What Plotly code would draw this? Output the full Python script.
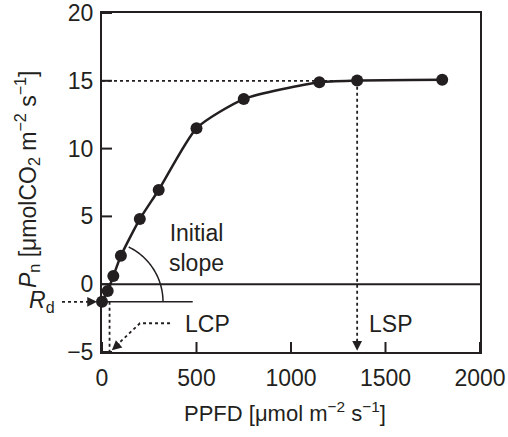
import numpy as np
import plotly.graph_objects as go

# Data
ppfd = [0, 30, 60, 100, 200, 300, 500, 750, 1150, 1350, 1800]
pn = [-1.3, -0.5, 0.6, 2.1, 4.8, 6.95, 11.5, 13.65, 14.9, 15.02, 15.08]
rd = -1.3
lcp = 40
lsp = 1350
pmax = 15
x_ticks = [0, 500, 1000, 1500, 2000]
y_ticks = [-5, 0, 5, 10, 15, 20]

XR = [0, 2000]
YR = [-5, 20]
W, H = 508, 437
L, T = 102, 13
pw, ph = 378, 339
R, B = W - L - pw, H - T - ph
sx = pw / (XR[1] - XR[0])
sy = ph / (YR[1] - YR[0])


def px(xpage):
    return (xpage - L) / pw


def py(ypage):
    return 1 - (ypage - T) / ph


ink = "#231f20"
font = dict(family="Liberation Sans, Arial, sans-serif", size=23, color=ink)
tfont = dict(family="Liberation Sans, Arial, sans-serif", size=23, color=ink)
xfont = dict(family="Liberation Sans, Arial, sans-serif", size=22, color=ink)

fig = go.Figure()
fig.add_trace(go.Scatter(
    x=ppfd, y=pn, mode="lines+markers",
    line=dict(color=ink, width=2.5, shape="spline", smoothing=0.6),
    marker=dict(color=ink, size=12),
    cliponaxis=False, showlegend=False, hoverinfo="skip",
))

shapes = []
shapes.append(dict(type="line", xref="x", yref="y", x0=0, x1=2000, y0=0, y1=0,
                   line=dict(color=ink, width=2)))
shapes.append(dict(type="line", xref="x", yref="y", x0=0, x1=480, y0=rd, y1=rd,
                   line=dict(color=ink, width=1.5)))
r_px = 61
th = np.linspace(0, np.deg2rad(64), 40)
ax_ = r_px * np.cos(th) / sx
ay_ = rd + r_px * np.sin(th) / sy
path = "M " + " L ".join(f"{a:.3f},{b:.4f}" for a, b in zip(ax_, ay_))
shapes.append(dict(type="path", xref="x", yref="y", path=path,
                   line=dict(color=ink, width=1.5)))
shapes.append(dict(type="line", xref="x", yref="y", x0=0, x1=lsp, y0=pmax, y1=pmax,
                   line=dict(color=ink, width=1.8, dash="dot")))
shapes.append(dict(type="line", xref="x", yref="y", x0=lsp, x1=lsp, y0=pmax, y1=YR[0] + 0.4,
                   line=dict(color=ink, width=1.8, dash="dot")))
shapes.append(dict(type="line", xref="x", yref="y", x0=lcp, x1=lcp, y0=rd, y1=YR[0],
                   line=dict(color=ink, width=1.8, dash="dot")))
shapes.append(dict(type="path", xref="x", yref="y",
                   path="M 360,-2.88 L 201,-2.88 L 70,-4.6",
                   line=dict(color=ink, width=1.8, dash="dot")))
shapes.append(dict(type="line", xref="paper", yref="y", x0=px(62), x1=px(92),
                   y0=rd, y1=rd, line=dict(color=ink, width=1.8, dash="dot")))
for v in x_ticks:
    shapes.append(dict(type="line", xref="x", yref="paper", x0=v, x1=v, y0=0, y1=10 / ph,
                       line=dict(color=ink, width=2)))
for v in y_ticks:
    shapes.append(dict(type="line", xref="paper", yref="y", x0=0, x1=10 / pw, y0=v, y1=v,
                       line=dict(color=ink, width=2)))

annotations = [
    dict(x=500, y=2.65, xref="x", yref="y", text="Initial<br>slope", showarrow=False,
         font=font, xanchor="center", yanchor="middle"),
    dict(x=428, y=-2.9, xref="x", yref="y", text="LCP", showarrow=False,
         font=font, xanchor="left", yanchor="middle"),
    dict(x=1400, y=-2.95, xref="x", yref="y", text="LSP", showarrow=False,
         font=font, xanchor="left", yanchor="middle"),
    dict(x=px(57), y=rd, xref="paper", yref="y", text="<i>R</i><sub>d</sub>",
         showarrow=False, font=font, xanchor="right", yanchor="middle"),
    dict(x=px(27), y=py(180), xref="paper", yref="paper", textangle=-90,
         text="<i>P</i><sub>n</sub> [μmolCO<sub>2</sub> m<sup>−2</sup> s<sup>−1</sup>]",
         showarrow=False, font=tfont, xanchor="center", yanchor="middle"),
    dict(x=px(285), y=py(412), xref="paper", yref="paper",
         text="PPFD [μmol m<sup>−2</sup> s<sup>−1</sup>]",
         showarrow=False, font=xfont, xanchor="center", yanchor="middle"),
    dict(x=0, y=rd, xref="x", yref="y", ax=-14, ay=0,
         showarrow=True, arrowhead=2, arrowsize=1.3, arrowwidth=1.5, arrowcolor=ink,
         standoff=5, text=""),
    dict(x=lsp, y=YR[0] + 0.1, xref="x", yref="y", ax=0, ay=-12,
         showarrow=True, arrowhead=2, arrowsize=1.3, arrowwidth=1.5, arrowcolor=ink,
         standoff=0, text=""),
    dict(x=52, y=-4.88, xref="x", yref="y", ax=9, ay=-8,
         showarrow=True, arrowhead=2, arrowsize=1.3, arrowwidth=1.5, arrowcolor=ink,
         standoff=0, text=""),
]

axis_common = dict(showline=True, linecolor=ink, linewidth=2, mirror=True,
                   ticks="", showgrid=False, zeroline=False, tickfont=font,
                   automargin=False, ticklabeloverflow="allow")

fig.update_layout(
    width=W, height=H,
    margin=dict(l=L, r=R, t=T, b=B),
    paper_bgcolor="white", plot_bgcolor="white",
    font=font,
    shapes=shapes, annotations=annotations,
    xaxis=dict(range=XR, tickvals=x_ticks, ticktext=[str(v) for v in x_ticks],
               ticklabelstandoff=4, **axis_common),
    yaxis=dict(range=YR, tickvals=y_ticks, ticktext=[str(v).replace("-", "−") for v in y_ticks],
               ticklabelstandoff=2, **axis_common),
)

fig.write_html("out.html", config={"displayModeBar": False},
               post_script="document.body.style.margin='0';")
